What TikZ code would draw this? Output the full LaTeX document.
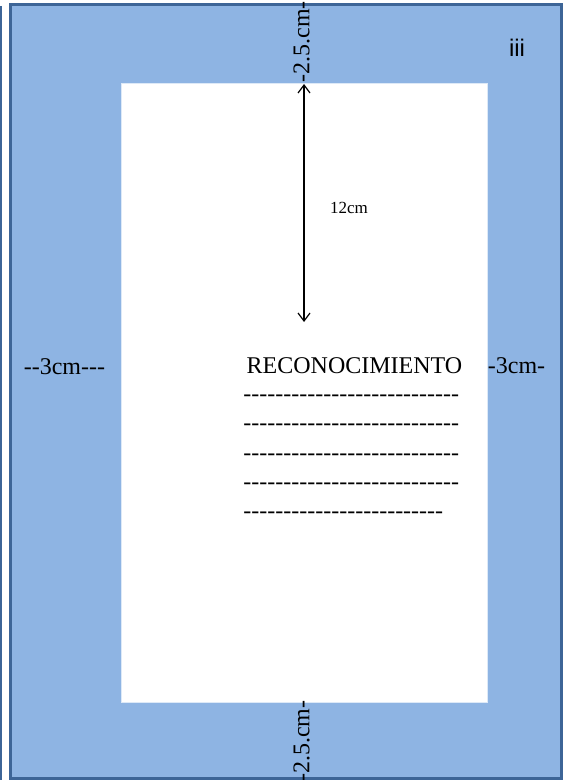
\documentclass[tikz,border=0pt]{standalone}
\usepackage{fontspec}
\newfontfamily\tnr{Liberation Serif}
\newfontfamily\arial{Liberation Sans}
\usetikzlibrary{arrows.meta}
\definecolor{marco}{HTML}{8EB4E3}
\definecolor{borde}{HTML}{3D6597}
\newcommand{\rayalarga}{---------------------------}
\newcommand{\rayacorta}{-------------------------}
\tikzset{
  texto/.style={font=\tnr\fontsize{12}{14}\selectfont, inner sep=0pt},
  raya/.style={texto, anchor=west},
  flecha/.style={{Straight Barb[length=4pt,width=6pt]}-{Straight Barb[length=4pt,width=6pt]}, line width=0.6pt}
}
\begin{document}
\begin{tikzpicture}[x=0.5pt,y=-0.5pt]
  \useasboundingbox (0,0) rectangle (563,780);
  \draw[borde, line width=0.8pt] (0.8,6) -- (0.8,780);
  \draw[borde, fill=marco, line width=1.5pt] (10.5,5) rectangle (561.5,778);
  \draw[white!70!marco, fill=white, line width=0.5pt] (121,84) rectangle (487,702);

  \node[texto, rotate=90] (sup) at (301.5,42) {-2.5.cm-};
  \node[texto, rotate=90] (inf) at (301.5,741) {-2.5.cm-};
  \node[font=\arial\fontsize{12}{14}\selectfont, inner sep=0pt] (pag) at (517,48) {iii};

  \coordinate (arriba) at (304,84);
  \coordinate (abajo) at (304,322);
  \draw[flecha] (arriba) -- (abajo);
  \node[texto, font=\tnr\fontsize{8.5}{10}\selectfont] (medida) at (349,208) {12cm};

  \node[texto] (izq) at (64.5,367) {--3cm---};
  \node[texto] (der) at (516.5,366) {-3cm-};
  \node[texto] (titulo) at (354.5,366) {RECONOCIMIENTO};

  \foreach \y [count=\i] in {398,427,457,486}
    \node[raya] (linea\i) at (243,\y) {\rayalarga};
  \node[raya] (linea5) at (243,515) {\rayacorta};
\end{tikzpicture}
\end{document}
